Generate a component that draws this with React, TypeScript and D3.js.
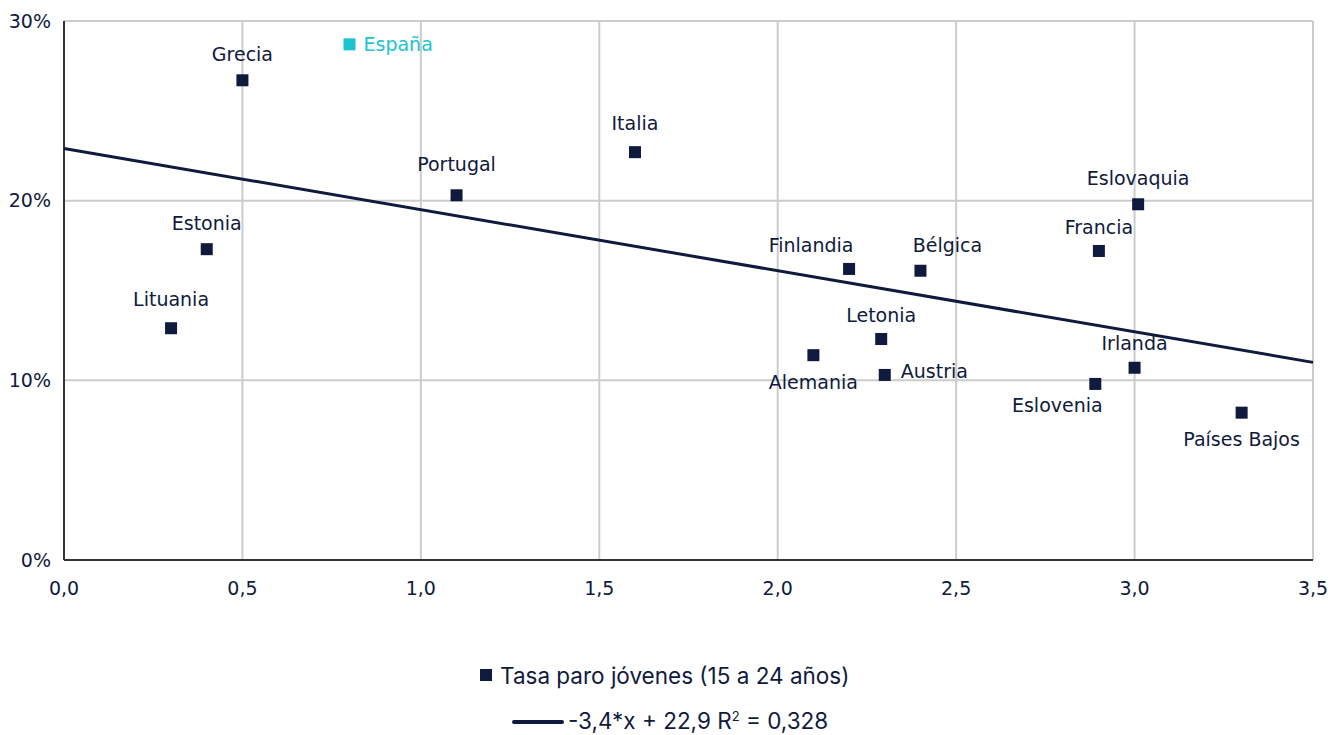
import React from "react";
import * as d3 from "d3";

const countries = ["Grecia", "España", "Estonia", "Lituania", "Portugal", "Italia", "Finlandia", "Bélgica", "Letonia", "Alemania", "Austria", "Eslovaquia", "Francia", "Irlanda", "Eslovenia", "Países Bajos"];
const xValues = [0.5, 0.8, 0.4, 0.3, 1.1, 1.6, 2.2, 2.4, 2.29, 2.1, 2.3, 3.01, 2.9, 3.0, 2.89, 3.3];
const yValues = [26.7, 28.7, 17.3, 12.9, 20.3, 22.7, 16.2, 16.1, 12.3, 11.4, 10.3, 19.8, 17.2, 10.7, 9.8, 8.2];
// label offset from point (px) and anchor
const labelDx = [0, 14, 0, 0, 0, 0, -38, 27, 0, 0, 16, 0, 0, 0, -38, 0];
const labelDy = [-26, 0, -26, -29, -31, -29, -24, -25, -24, 27, -4, -26, -24, -24, 21, 27];
const labelAnchor = ["middle", "start", "middle", "middle", "middle", "middle", "middle", "middle", "middle", "middle", "start", "middle", "middle", "middle", "middle", "middle"];

const xTicks = [0, 0.5, 1, 1.5, 2, 2.5, 3, 3.5];
const yTicks = [0, 10, 20, 30];
const slope = -3.4;
const intercept = 22.9;
const trendLabel = "-3,4*x + 22,9 R";
const trendR2 = " = 0,328";
const seriesLabel = "Tasa paro jóvenes (15 a 24 años)";

const NAVY = "#101a3d";
const CYAN = "#1cc4cf";
const GRID = "#cccccc";
const AXIS = "#333333";

export default function App() {
  const W = 1343, H = 735;
  const left = 64, right = 1313, top = 21, bottom = 560;
  const x = d3.scaleLinear().domain([0, 3.5]).range([left, right]);
  const y = d3.scaleLinear().domain([0, 30]).range([bottom, top]);
  const fmtX = (v: number) => d3.format(".1f")(v).replace(".", ",");
  const tickFont = "'DejaVu Sans', Verdana, sans-serif";
  const legendFont = "Inter, 'Open Sans', sans-serif";
  const lineGen = d3.line<number>().x((v) => x(v)).y((v) => y(slope * v + intercept));
  const ms = 12;
  return (
    <svg width={W} height={H} style={{ position: "absolute", left: 0, top: 0 }}>
      <rect width={W} height={H} fill="#fff" />
      {xTicks.map((t) => (
        <line key={"gx" + t} x1={x(t)} x2={x(t)} y1={top} y2={bottom} stroke={GRID} strokeWidth={2} />
      ))}
      {yTicks.map((t) => (
        <line key={"gy" + t} x1={left} x2={right} y1={y(t)} y2={y(t)} stroke={GRID} strokeWidth={2} />
      ))}
      <line x1={left} x2={left} y1={top} y2={bottom} stroke={AXIS} strokeWidth={2} />
      <line x1={left} x2={right} y1={bottom} y2={bottom} stroke={AXIS} strokeWidth={2} />
      {yTicks.map((t) => (
        <text key={"ty" + t} x={51} y={y(t)} dy="0.35em" textAnchor="end" fontFamily={tickFont} fontSize={19} fill={NAVY}>{t + "%"}</text>
      ))}
      {xTicks.map((t) => (
        <text key={"tx" + t} x={x(t)} y={588} dy="0.35em" textAnchor="middle" fontFamily={tickFont} fontSize={19} fill={NAVY}>{fmtX(t)}</text>
      ))}
      <path d={lineGen([0, 3.5]) || ""} stroke={NAVY} strokeWidth={3} fill="none" />
      {countries.map((c, i) => {
        const px = x(xValues[i]);
        const py = y(yValues[i]);
        const col = c === "España" ? CYAN : NAVY;
        return (
          <g key={c}>
            <rect x={px - ms / 2} y={py - ms / 2} width={ms} height={ms} fill={col} />
            <text x={px + labelDx[i]} y={py + labelDy[i]} dy="0.35em" textAnchor={labelAnchor[i]} fontFamily={tickFont} fontSize={19} fill={col}>{c}</text>
          </g>
        );
      })}
      <rect x={480} y={669} width={12} height={12} fill={NAVY} />
      <text x={500} y={676} dy="0.35em" fontFamily={legendFont} fontSize={22.5} fill={NAVY}>{seriesLabel}</text>
      <line x1={514} x2={562} y1={722} y2={722} stroke={NAVY} strokeWidth={4} strokeLinecap="round" />
      <text x={568} y={729} fontFamily={legendFont} fontSize={22.5} fill={NAVY}>
        {trendLabel}
        <tspan fontSize={13} baselineShift="super">2</tspan>
        <tspan baselineShift="0">{trendR2}</tspan>
      </text>
    </svg>
  );
}
